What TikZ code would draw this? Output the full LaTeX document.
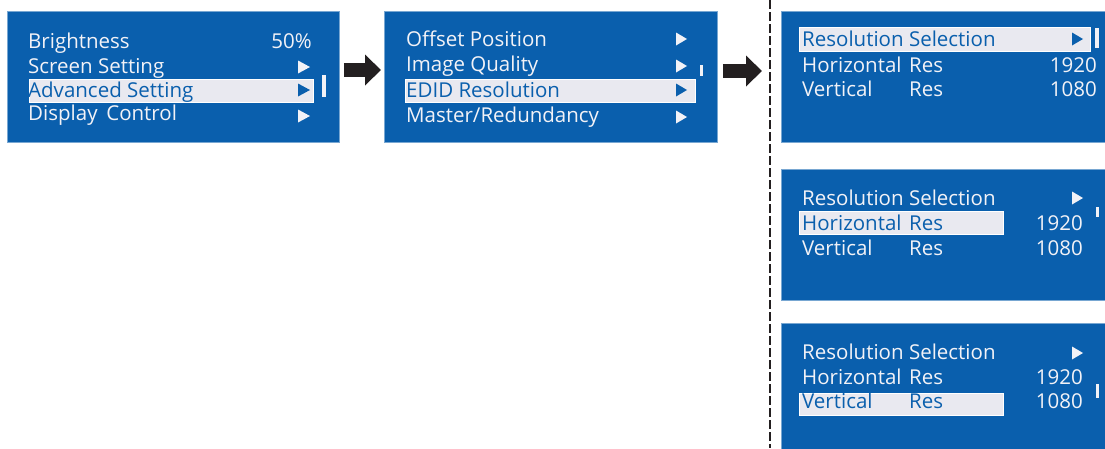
\documentclass[tikz,border=0pt]{standalone}
\usepackage{fontspec}
\setmainfont{Open Sans}
\usetikzlibrary{arrows.meta}
\definecolor{panelblue}{HTML}{0A5FAD}
\definecolor{hlgrey}{HTML}{E9E9F0}
\definecolor{txtwhite}{HTML}{F2F2F7}
\definecolor{arrowblack}{HTML}{231F20}
\begin{document}
\begin{tikzpicture}[x=1pt,y=-1pt,
  panel/.style={fill=panelblue, draw=panelblue!55!white, line width=0.8pt, inner sep=0, anchor=north west},
  item/.style={anchor=base west, inner sep=0, text=txtwhite, font=\fontsize{20.5}{21}\selectfont},
  itemhl/.style={item, text=panelblue},
  val/.style={item, anchor=base east},
  hlbar/.style={fill=hlgrey, draw=white, line width=0.6pt},
  tri/.style={fill=txtwhite},
  trihl/.style={fill=panelblue},
  scrollbar/.style={fill=txtwhite},
  flow/.style={draw=arrowblack, line width=14pt, -{Triangle[length=16pt,width=30pt,fill=arrowblack]}},
  sep/.style={draw=arrowblack, line width=2.2pt, dash pattern=on 9pt off 3pt}]
\useasboundingbox (0,0) rectangle (1105,448);

% panels
\node[panel, minimum width=332pt, minimum height=131pt] (p1) at (7,11) {};
\node[panel, minimum width=333pt, minimum height=131pt] (p2) at (384,11) {};
\node[panel, minimum width=326pt, minimum height=131pt] (p3) at (781,11) {};
\node[panel, minimum width=326pt, minimum height=131pt] (p4) at (781,169) {};
\node[panel, minimum width=326pt, minimum height=127pt] (p5) at (781,323) {};

% separator
\draw[sep] (770,0) -- (770,448);

% arrows
\path (p1.north east) ++(4,59) coordinate (a1s);
\path (p2.north west) ++(-3,59) coordinate (a1e);
\path (p2.north east) ++(5,60) coordinate (a2s);
\path (p3.north west) ++(-19,60) coordinate (a2e);
\draw[flow] (a1s) -- (a1e);
\draw[flow] (a2s) -- (a2e);

% ---- panel 1
\fill[hlbar] (29,79) rectangle (313,102);
\node[item] (t11) at (28,48) {Brightness};
\node[val] (v11) at (312,48) {50\%};
\node[item] (t12) at (28,73) {Screen Setting};
\node[itemhl] (t13) at (28,97) {Advanced Setting};
\node[item] (t14) at (28,120) {Display\, Control};
\fill[tri] (298,60.5) -- ++(12,6.5) -- ++(-12,6.5) -- cycle;
\fill[trihl] (298,83.5) -- ++(12,6.5) -- ++(-12,6.5) -- cycle;
\fill[tri] (298,109.5) -- ++(12,6.5) -- ++(-12,6.5) -- cycle;
\fill[scrollbar] (322,75) rectangle (326,97);

% ---- panel 2
\fill[hlbar] (405,79) rectangle (695,102);
\node[item] (t21) at (406,46) {Offset Position};
\node[item] (t22) at (406,71) {Image Quality};
\node[itemhl] (t23) at (406,97) {EDID Resolution};
\node[item] (t24) at (406,122) {Master/Redundancy};
\fill[tri] (676,32.5) -- ++(11,6.5) -- ++(-11,6.5) -- cycle;
\fill[tri] (676,59.5) -- ++(11,6.5) -- ++(-11,6.5) -- cycle;
\fill[trihl] (676,83.5) -- ++(11,6.5) -- ++(-11,6.5) -- cycle;
\fill[tri] (676,110.5) -- ++(11,6.5) -- ++(-11,6.5) -- cycle;
\fill[scrollbar] (700,65) rectangle (703,76);

% ---- panel 3
\fill[hlbar] (799,27) rectangle (1090,51);
\node[itemhl] (t31) at (802,46) {Resolution Selection};
\node[item] (t32) at (802,72) {Horizontal};
\node[item] (t32b) at (909,72) {Res};
\node[val] (v32) at (1097,72) {1920};
\node[item] (t33) at (802,96) {Vertical};
\node[item] (t33b) at (909,96) {Res};
\node[val] (v33) at (1097,96) {1080};
\fill[trihl] (1072,32.5) -- ++(11,6.5) -- ++(-11,6.5) -- cycle;
\fill[scrollbar] (1095,28) rectangle (1099,48);

% ---- panel 4
\fill[hlbar] (799,211) rectangle (1003,234);
\node[item] (t41) at (802,205) {Resolution Selection};
\node[itemhl] (t42) at (802,230) {Horizontal};
\node[itemhl] (t42b) at (909,230) {Res};
\node[val] (v42) at (1083,230) {1920};
\node[item] (t43) at (802,255) {Vertical};
\node[item] (t43b) at (909,255) {Res};
\node[val] (v43) at (1083,255) {1080};
\fill[tri] (1072,191.5) -- ++(11,6.5) -- ++(-11,6.5) -- cycle;
\fill[scrollbar] (1096,207) rectangle (1099,217);

% ---- panel 5
\fill[hlbar] (799,393) rectangle (1003,415);
\node[item] (t51) at (802,359) {Resolution Selection};
\node[item] (t52) at (802,384) {Horizontal};
\node[item] (t52b) at (909,384) {Res};
\node[val] (v52) at (1083,384) {1920};
\node[itemhl] (t53) at (802,408) {Vertical};
\node[itemhl] (t53b) at (909,408) {Res};
\node[val] (v53) at (1083,408) {1080};
\fill[tri] (1072,346.5) -- ++(11,6.5) -- ++(-11,6.5) -- cycle;
\fill[scrollbar] (1096,384) rectangle (1099,398);
\end{tikzpicture}
\end{document}
